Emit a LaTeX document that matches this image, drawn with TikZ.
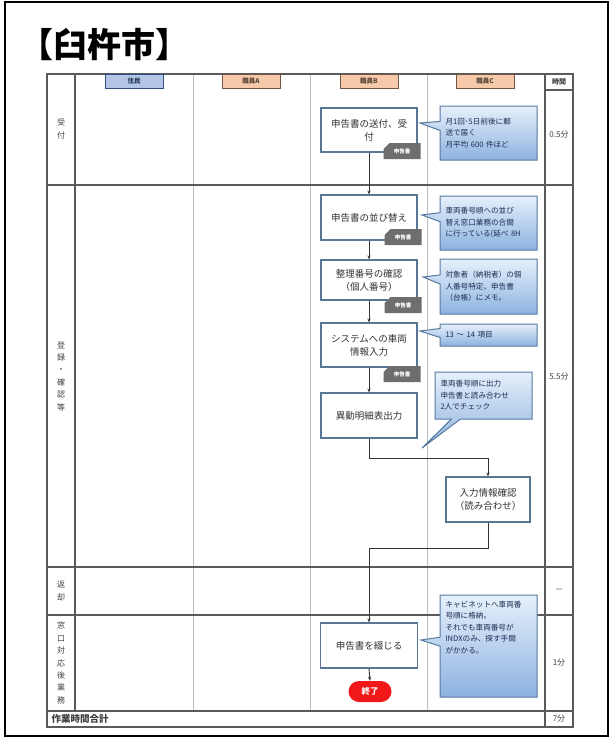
\documentclass[tikz,border=0pt]{standalone}
\usepackage{fontspec}
\setmainfont{Noto Sans CJK JP}
\usetikzlibrary{shapes.callouts,shapes.misc,arrows.meta}

\definecolor{gridDark}{HTML}{5A5A5A}
\definecolor{gridLight}{HTML}{BDBDBD}
\definecolor{boxEdge}{HTML}{587796}
\definecolor{noteEdge}{HTML}{56799F}
\definecolor{noteTop}{HTML}{E6F0FB}
\definecolor{noteBot}{HTML}{8DB2E0}
\definecolor{noteText}{HTML}{1C2C52}
\definecolor{tagGray}{HTML}{6E6E6E}
\definecolor{residentFill}{HTML}{B4C6E7}
\definecolor{residentEdge}{HTML}{30507F}
\definecolor{staffFill}{HTML}{F6C9AA}
\definecolor{staffEdge}{HTML}{6F5645}
\definecolor{endRed}{HTML}{F01818}

\tikzset{
  procbox/.style={draw=boxEdge, line width=1.1pt, fill=white, minimum width=96pt,
    align=center, font=\fontsize{9.5}{13}\selectfont, text=black!80, inner sep=2pt},
  doctag/.style={chamfered rectangle, chamfered rectangle corners=north west,
    chamfered rectangle xsep=3pt, chamfered rectangle ysep=3pt,
    fill=tagGray, text=white, font=\fontsize{5.5}{6}\selectfont\bfseries,
    minimum width=37pt, minimum height=16pt, inner sep=1pt},
  note/.style={rectangle callout, draw=noteEdge, line width=1pt,
    top color=noteTop, bottom color=noteBot, callout pointer width=9pt,
    text=noteText, font=\fontsize{7.6}{11.5}\selectfont, align=left,
    minimum width=97pt, text width=86pt, inner sep=4pt},
  laneHead/.style={draw, line width=0.8pt, minimum width=58pt, minimum height=14pt,
    font=\fontsize{6.5}{7}\selectfont\bfseries, inner sep=0pt},
  rowLabel/.style={align=center, font=\fontsize{8}{12.4}\selectfont, text=black!75},
  timeText/.style={font=\fontsize{8}{9}\selectfont, text=black!75},
  flow/.style={draw=black!80, line width=0.9pt, -{Stealth[length=4pt,width=3.2pt]}},
  gridMain/.style={draw=gridDark, line width=1.1pt},
  gridThin/.style={draw=gridLight, line width=0.8pt}
}

\begin{document}
\begin{tikzpicture}[x=1pt,y=-1pt]
  \useasboundingbox (0,0) rectangle (612,744);
  \fill[white] (0,0) rectangle (612,744);

  % outer frame
  \draw[line width=2pt, black] (5,2) rectangle (608,736);

  % title
  \node[anchor=west, font=\fontsize{34}{37}\selectfont\bfseries] (title) at (16,45) {【臼杵市】};

  % lane separators
  \foreach \xx in {193,310,427} \draw[gridThin] (\xx,74) -- (\xx,711);
  \draw[gridMain] (75,74) -- (75,711);
  \draw[gridMain] (545,74) -- (545,727);
  \draw[gridMain] (545,90) -- (573,90);
  % phase separators
  \foreach \yy in {185,567,615,711} \draw[gridMain] (47,\yy) -- (573,\yy);
  % table border
  \draw[gridMain] (47,74) rectangle (573,727);

  % lane headers
  \node[laneHead, fill=residentFill, draw=residentEdge, text=residentEdge!70!black] (h0) at (134,81.5) {住民};
  \node[laneHead, fill=staffFill, draw=staffEdge, text=staffEdge!80!black] (h1) at (251,81.5) {職員A};
  \node[laneHead, fill=staffFill, draw=staffEdge, text=staffEdge!80!black] (h2) at (369,81.5) {職員B};
  \node[laneHead, fill=staffFill, draw=staffEdge, text=staffEdge!80!black] (h3) at (485,81.5) {職員C};
  \node[font=\fontsize{7}{8}\selectfont\bfseries, text=black!75] (h4) at (559,82) {時間};

  % phase labels
  \node[rowLabel] (r1) at (61,129) {受\\付};
  \node[rowLabel] (r2) at (61,376) {登\\録\\・\\確\\認\\等};
  \node[rowLabel] (r3) at (61,591) {返\\却};
  \node[rowLabel] (r4) at (61,663) {窓\\口\\対\\応\\後\\業\\務};
  \node[anchor=west, font=\fontsize{9.5}{10}\selectfont\bfseries, text=black!75] (r5) at (48,719) {作業時間合計};

  % time per phase
  \node[timeText] (t1) at (559,135) {0.5分};
  \node[timeText] (t2) at (559,377) {5.5分};
  \node[timeText] (t3) at (559,591) {－};
  \node[timeText] (t4) at (559,663) {1分};
  \node[timeText] (t5) at (559,719) {7分};

  % process steps
  \node[procbox, minimum height=44pt] (b1) at (369,130) {申告書の送付、受\\付};
  \node[procbox, minimum height=45pt] (b2) at (369,217.5) {申告書の並び替え};
  \node[procbox, minimum height=40pt] (b3) at (369,280) {整理番号の確認\\（個人番号）};
  \node[procbox, minimum height=44pt] (b4) at (369,345) {システムへの車両\\情報入力};
  \node[procbox, minimum height=45pt] (b5) at (369,415.5) {異動明細表出力};
  \node[procbox, minimum height=45pt, minimum width=84pt] (b6) at (488,499.5) {入力情報確認\\（読み合わせ）};
  \node[procbox, minimum height=45pt, minimum width=97pt] (b7) at (369,645.5) {申告書を綴じる};
  \node[rounded rectangle, fill=endRed, text=white, minimum width=45pt, minimum height=21pt,
        font=\fontsize{8.5}{9}\selectfont\bfseries, inner sep=1pt] (fin) at (370,691.5) {終了};

  % flow
  \draw[flow] (b1.south) -- (b2.north);
  \draw[flow] (b2.south) -- (b3.north);
  \draw[flow] (b3.south) -- (b4.north);
  \draw[flow] (b4.south) -- (b5.north);
  \draw[flow] (b5.south) -- ++(0,20) -| (b6.north);
  \draw[flow] (b6.south) -- ++(0,26) -| (b7.north);
  \draw[flow] (b7.south) -- (fin.north);

  % document tags
  \node[doctag] (d1) at (402,151) {申告書};
  \node[doctag] (d2) at (403,237) {申告書};
  \node[doctag] (d3) at (403,305) {申告書};
  \node[doctag] (d4) at (402,374) {申告書};

  % notes
  \coordinate (p1) at (420,123);
  \coordinate (p2) at (422,215);
  \coordinate (p3) at (423,277);
  \coordinate (p4) at (420,331);
  \coordinate (p5) at (422,448);
  \coordinate (p7) at (421,640);
  \node[note, minimum height=54pt, callout absolute pointer={(p1)}] (n1) at (488.5,133)
    {月1回･5日前後に郵\\送で届く\\月平均 600 件ほど};
  \node[note, minimum height=54pt, callout absolute pointer={(p2)}] (n2) at (488.5,223)
    {車両番号順への並び\\替え窓口業務の合間\\に行っている(延べ 8H};
  \node[note, minimum height=55pt, callout absolute pointer={(p3)}] (n3) at (488.5,286.5)
    {対象者（納税者）の個\\人番号特定、申告書\\（台帳）にメモ。};
  \node[note, minimum height=22pt, callout absolute pointer={(p4)}] (n4) at (488.5,335)
    {13 ～ 14 項目};
  \node[note, minimum height=47pt, callout absolute pointer={(p5)}] (n5) at (483.5,395.5)
    {車両番号順に出力\\申告書と読み合わせ\\2人でチェック};
  \node[note, minimum height=102pt, callout absolute pointer={(p7)}] (n7) at (488.5,646)
    {\begin{minipage}[c][90pt][t]{86pt}\raggedright
     キャビネットへ車両番\\号順に格納。\\それでも車両番号が\\INDXのみ、探す手間\\がかかる。\end{minipage}};
\end{tikzpicture}
\end{document}
